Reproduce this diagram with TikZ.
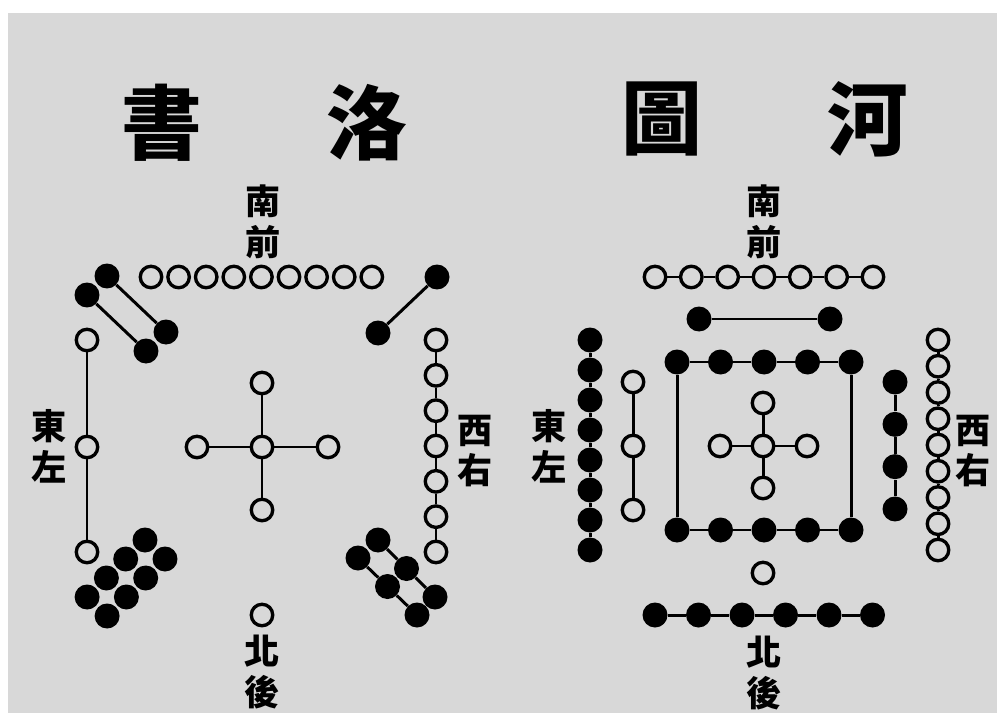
\documentclass[tikz,border=0pt]{standalone}
\usepackage{fontspec}
\usepackage{xcolor}
\usepackage{tikz}
\usetikzlibrary{positioning}
\newfontfamily\cjk{Noto Sans CJK TC}
\definecolor{paper}{HTML}{D8D8D8}

\begin{document}
\begin{tikzpicture}[
  x=0.02cm, y=-0.02cm,
  yang/.style={circle, draw, line width=1.9pt, fill=paper, minimum size=4.3mm, inner sep=0pt},
  yin/.style={circle, fill=black, minimum size=5mm, inner sep=0pt},
  link/.style={line width=1.7pt},
  title/.style={font=\cjk\bfseries\fontsize{46}{46}\selectfont},
  side/.style={font=\cjk\bfseries\fontsize{20}{23.3}\selectfont, align=center}
]
\fill[white] (0,0) rectangle (997,713);
\fill[paper] (8,13) rectangle (997,713);
\useasboundingbox (0,0) rectangle (997,713);

% Luo Shu
\node[title] (ls-t1) at (162,123) {書};
\node[title] (ls-t2) at (367,123) {洛};
\node[side] (ls-south) at (263,222) {南\\前};
\node[side] (ls-east) at (49,446) {東\\左};
\node[side] (ls-west) at (475,451) {西\\右};
\node[side] (ls-north) at (262,672) {北\\後};

\foreach \i in {0,...,8}
  \node[yang] (ls-s\i) at ({151+27.6*\i},277) {};

\node[yin] (ls-se1) at (107,276) {};
\node[yin] (ls-se2) at (166,332) {};
\node[yin] (ls-se3) at (87,295) {};
\node[yin] (ls-se4) at (146,351) {};
\draw[link] (ls-se1) -- (ls-se2);
\draw[link] (ls-se3) -- (ls-se4);

\node[yin] (ls-sw1) at (437,277) {};
\node[yin] (ls-sw2) at (378,333) {};
\draw[link] (ls-sw1) -- (ls-sw2);

\node[yang] (ls-e1) at (87,340) {};
\node[yang] (ls-e2) at (87,447) {};
\node[yang] (ls-e3) at (87,552) {};
\draw[link] (ls-e1) -- (ls-e2);
\draw[link] (ls-e2) -- (ls-e3);

\node[yang] (ls-c) at (262,447) {};
\node[yang] (ls-c1) at (262,383) {};
\node[yang] (ls-c2) at (328,447) {};
\node[yang] (ls-c3) at (262,510) {};
\node[yang] (ls-c4) at (197,447) {};
\foreach \i in {1,...,4}
  \draw[link] (ls-c) -- (ls-c\i);

\foreach \i in {0,...,6}
  \node[yang] (ls-w\i) at (436,{340+35.33*\i}) {};
\foreach \i [count=\j from 1] in {0,...,5}
  \draw[link] (ls-w\i) -- (ls-w\j);

\foreach \k in {0,...,3} {
  \node[yin] (ls-ne\k a) at ({145-19.3*\k},{540+19*\k}) {};
  \node[yin] (ls-ne\k b) at ({165-19.3*\k},{559+19*\k}) {};
}

\foreach \k in {0,...,2} {
  \node[yin] (ls-nw\k a) at ({378+28.5*\k},{540+28.5*\k}) {};
  \node[yin] (ls-nw\k b) at ({358+29.5*\k},{558+28.5*\k}) {};
}
\foreach \k [count=\l from 1] in {0,1} {
  \draw[link] (ls-nw\k a) -- (ls-nw\l a);
  \draw[link] (ls-nw\k b) -- (ls-nw\l b);
}

\node[yang] (ls-n) at (262,615) {};

% Ho Tu
\node[title] (ht-t1) at (662,119) {圖};
\node[title] (ht-t2) at (868,119) {河};
\node[side] (ht-south) at (764,222) {南\\前};
\node[side] (ht-east) at (549,446) {東\\左};
\node[side] (ht-west) at (973,451) {西\\右};
\node[side] (ht-north) at (764,673) {北\\後};

\foreach \i in {0,...,6}
  \node[yang] (ht-s\i) at ({655+36.33*\i},277) {};
\foreach \i [count=\j from 1] in {0,...,5}
  \draw[link] (ht-s\i) -- (ht-s\j);

\node[yin] (ht-p1) at (699,319) {};
\node[yin] (ht-p2) at (830,319) {};
\draw[link] (ht-p1) -- (ht-p2);

\foreach \i in {0,...,4} {
  \node[yin] (ht-q\i) at ({677+43.5*\i},362) {};
  \node[yin] (ht-r\i) at ({677+43.5*\i},530) {};
}
\foreach \i [count=\j from 1] in {0,...,3} {
  \draw[link] (ht-q\i) -- (ht-q\j);
  \draw[link] (ht-r\i) -- (ht-r\j);
}
\draw[link] (ht-q0) -- (ht-r0);
\draw[link] (ht-q4) -- (ht-r4);

\node[yang] (ht-c) at (763,446) {};
\node[yang] (ht-c1) at (763,403) {};
\node[yang] (ht-c2) at (807,446) {};
\node[yang] (ht-c3) at (763,488) {};
\node[yang] (ht-c4) at (720,446) {};
\foreach \i in {1,...,4}
  \draw[link] (ht-c) -- (ht-c\i);

\node[yang] (ht-n) at (763,573) {};

\foreach \i in {0,...,5}
  \node[yin] (ht-m\i) at ({655+43.5*\i},615) {};
\foreach \i [count=\j from 1] in {0,...,4}
  \draw[link] (ht-m\i) -- (ht-m\j);

\foreach \i in {0,...,7}
  \node[yin] (ht-e\i) at (590,{340+30*\i}) {};
\foreach \i [count=\j from 1] in {0,...,6}
  \draw[link] (ht-e\i) -- (ht-e\j);

\node[yang] (ht-f1) at (633,382) {};
\node[yang] (ht-f2) at (633,446) {};
\node[yang] (ht-f3) at (633,510) {};
\draw[link] (ht-f1) -- (ht-f2);
\draw[link] (ht-f2) -- (ht-f3);

\foreach \i in {0,...,3}
  \node[yin] (ht-g\i) at (895,{382+42.33*\i}) {};
\foreach \i [count=\j from 1] in {0,...,2}
  \draw[link] (ht-g\i) -- (ht-g\j);

\foreach \i in {0,...,8}
  \node[yang] (ht-w\i) at (938,{340+26.25*\i}) {};
\foreach \i [count=\j from 1] in {0,...,7}
  \draw[link] (ht-w\i) -- (ht-w\j);
\end{tikzpicture}
\end{document}
